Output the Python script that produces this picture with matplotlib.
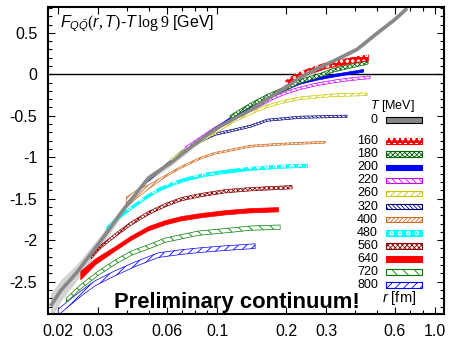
import matplotlib
matplotlib.use("Agg")
import matplotlib.pyplot as plt
from matplotlib.patches import Rectangle
from matplotlib.ticker import FixedLocator, NullFormatter, MultipleLocator

plt.rcParams['font.family'] = ['Liberation Sans', 'DejaVu Sans']
plt.rcParams['mathtext.fontset'] = 'custom'
plt.rcParams['mathtext.it'] = 'Liberation Sans:italic'
plt.rcParams['mathtext.rm'] = 'Liberation Serif'
plt.rcParams['hatch.linewidth'] = 0.6

# temperatures in MeV (0 = vacuum potential)
temps = [0, 160, 180, 200, 220, 260, 320, 400, 480, 560, 640, 720, 800]

# r in fm, F - T log 9 in GeV, band half width in GeV
r_fm = {
    0: [0.0185, 0.0206, 0.0240, 0.0309, 0.0394, 0.0497, 0.0620, 0.0823, 0.1027, 0.1364,
        0.1702, 0.2001, 0.2305, 0.2821, 0.3218, 0.4099, 0.5014, 0.6017, 0.6792],
    160: [0.198, 0.219, 0.255, 0.297, 0.345, 0.402, 0.458],
    180: [0.1137, 0.1391, 0.1652, 0.2001, 0.2305, 0.2737, 0.3218, 0.3819, 0.4581],
    200: [0.0759, 0.0840, 0.0977, 0.1172, 0.1391, 0.1652, 0.1982, 0.2305, 0.2737, 0.3218, 0.4355],
    220: [0.0722, 0.0840, 0.0977, 0.1172, 0.1391, 0.1702, 0.2021, 0.2305, 0.2737, 0.3283, 0.3819, 0.4674],
    260: [0.0620, 0.0722, 0.0840, 0.0977, 0.1172, 0.1391, 0.1652, 0.1982, 0.2305, 0.3218, 0.4535],
    320: [0.0497, 0.0561, 0.0693, 0.0840, 0.0977, 0.1172, 0.1391, 0.1652, 0.2305, 0.3706],
    400: [0.0398, 0.0436, 0.0497, 0.0590, 0.0693, 0.0840, 0.0977, 0.1196, 0.1391, 0.1884, 0.2967],
    480: [0.0325, 0.0356, 0.0418, 0.0482, 0.0549, 0.0652, 0.0744, 0.0883, 0.1081, 0.1391, 0.1884, 0.2474],
    560: [0.0279, 0.0306, 0.0356, 0.0414, 0.0497, 0.0590, 0.0693, 0.0840, 0.1081, 0.1391, 0.2126],
    640: [0.0250, 0.0291, 0.0356, 0.0414, 0.0497, 0.0590, 0.0693, 0.0840, 0.1081, 0.1391, 0.1846],
    720: [0.0217, 0.0250, 0.0300, 0.0356, 0.0418, 0.0507, 0.0590, 0.0823, 0.1137, 0.1391, 0.1884],
    800: [0.0200, 0.0226, 0.0253, 0.0291, 0.0356, 0.0436, 0.0549, 0.0686, 0.0840, 0.1081, 0.1463],
}
F_gev = {
    0: [-2.795, -2.602, -2.398, -2.000, -1.602, -1.253, -1.072, -0.807, -0.627, -0.446,
        -0.277, -0.157, -0.036, 0.084, 0.157, 0.301, 0.494, 0.663, 0.795],
    160: [-0.108, -0.024, 0.048, 0.108, 0.145, 0.181, 0.205],
    180: [-0.518, -0.373, -0.265, -0.169, -0.084, -0.024, 0.048, 0.096, 0.145],
    200: [-0.867, -0.783, -0.651, -0.506, -0.386, -0.277, -0.169, -0.096, -0.048, -0.012, 0.048],
    220: [-0.892, -0.771, -0.651, -0.530, -0.434, -0.301, -0.217, -0.169, -0.120, -0.084, -0.060, -0.036],
    260: [-1.036, -0.916, -0.807, -0.699, -0.566, -0.470, -0.386, -0.325, -0.289, -0.253, -0.241],
    320: [-1.277, -1.157, -0.940, -0.807, -0.723, -0.675, -0.627, -0.554, -0.518, -0.506],
    400: [-1.542, -1.458, -1.361, -1.229, -1.120, -1.012, -0.952, -0.904, -0.867, -0.843, -0.819],
    480: [-1.855, -1.747, -1.602, -1.482, -1.386, -1.301, -1.253, -1.205, -1.169, -1.133, -1.108, -1.096],
    560: [-2.205, -2.084, -1.940, -1.807, -1.675, -1.578, -1.506, -1.458, -1.410, -1.386, -1.361],
    640: [-2.422, -2.253, -2.096, -1.976, -1.855, -1.783, -1.735, -1.699, -1.663, -1.639, -1.627],
    720: [-2.723, -2.566, -2.398, -2.265, -2.157, -2.072, -2.000, -1.916, -1.880, -1.855, -1.843],
    800: [-2.867, -2.747, -2.639, -2.518, -2.398, -2.289, -2.181, -2.145, -2.120, -2.096, -2.072],
}
F_err = {
    0: [0.15, 0.13, 0.10, 0.07, 0.05, 0.04, 0.04, 0.035, 0.035, 0.04,
        0.05, 0.05, 0.05, 0.04, 0.03, 0.02, 0.02, 0.02, 0.02],
    160: [0.035] * 7,
    180: [0.022] * 9,
    200: [0.016] * 11,
    220: [0.016] * 12,
    260: [0.016] * 11,
    320: [0.013] * 10,
    400: [0.06, 0.05, 0.025, 0.011, 0.011, 0.011, 0.011, 0.011, 0.011, 0.011, 0.011],
    480: [0.02] * 12,
    560: [0.02] * 11,
    640: [0.05, 0.035, 0.026, 0.026, 0.026, 0.026, 0.026, 0.026, 0.026, 0.026, 0.026],
    720: [0.026] * 11,
    800: [0.035, 0.035, 0.032, 0.03, 0.03, 0.028, 0.028, 0.028, 0.028, 0.028, 0.028],
}

# colour, face, hatch, hatch over a filled face (white)
style = {
    0: ('#888888', '#888888', None, None),
    160: ('#ff0000', '#ff0000', None, 'ooo'),
    180: ('#006400', 'white', 'xxxxxxx', None),
    200: ('#0000ff', '#0000ff', None, None),
    220: ('#cc00ff', 'white', '\\\\\\\\\\', None),
    260: ('#c8c800', 'white', '/////', None),
    320: ('#00007f', 'white', '\\\\\\\\\\\\\\\\', None),
    400: ('#d2691e', 'white', '////////', None),
    480: ('#00ffff', '#00ffff', None, 'oo'),
    560: ('#8b0000', 'white', 'xxxxxxx', None),
    640: ('#ff0000', '#ff0000', None, None),
    720: ('#007f00', 'white', '\\\\\\', None),
    800: ('#0000ff', 'white', '////', None),
}

fig = plt.figure(figsize=(4.58, 3.38), dpi=100)
ax = fig.add_axes([0.1055, 0.071, 0.864, 0.908])
ax.set_xscale('log')


def band(T, r, lo, hi, zorder):
    col, face, hatch, over = style[T]
    ax.fill_between(r, lo, hi, facecolor=face, edgecolor=col, hatch=hatch,
                    linewidth=0.5, zorder=zorder)
    if over:
        ax.fill_between(r, lo, hi, facecolor='none', edgecolor='white', hatch=over,
                        linewidth=0, zorder=zorder + 0.1)


for k, T in enumerate(temps[:0:-1]):
    r = r_fm[T]
    lo = [f - e for f, e in zip(F_gev[T], F_err[T])]
    hi = [f + e for f, e in zip(F_gev[T], F_err[T])]
    band(T, r, lo, hi, 2 + k * 0.2)

# vacuum potential: light error band plus grey central line
lo0 = [f - e for f, e in zip(F_gev[0], F_err[0])]
hi0 = [f + e for f, e in zip(F_gev[0], F_err[0])]
ax.fill_between(r_fm[0], lo0, hi0, color='#d3d3d3', linewidth=0, zorder=1)
ax.plot(r_fm[0], F_gev[0], color='#888888', lw=2.6, zorder=6, solid_capstyle='butt')

ax.axhline(0, color='black', lw=1.0, zorder=0.5)

ax.set_xlim(0.0181, 0.987)
ax.set_ylim(-2.89, 0.81)

xminor = [0.02, 0.03, 0.04, 0.05, 0.06, 0.07, 0.08, 0.09,
          0.2, 0.3, 0.4, 0.5, 0.6, 0.7, 0.8, 0.9]
xlab_pos = [0.02, 0.03, 0.06, 0.1, 0.2, 0.3, 0.6, 0.9]
xlab_txt = ['0.02', '0.03', '0.06', '0.1', '0.2', '0.3', '0.6', '1.0']
ax.xaxis.set_major_locator(FixedLocator(xlab_pos))
ax.set_xticklabels(xlab_txt)
ax.xaxis.set_minor_locator(FixedLocator(xminor))
ax.xaxis.set_minor_formatter(NullFormatter())
ax.yaxis.set_minor_locator(MultipleLocator(0.1))
ax.set_yticks([0.5, 0, -0.5, -1, -1.5, -2, -2.5])
ax.set_yticklabels(['0.5', '0', '-0.5', '-1', '-1.5', '-2', '-2.5'])
ax.tick_params(which='both', direction='in', top=True, right=True, labelsize=11.5)
ax.tick_params(which='major', length=5, width=0.8)
ax.tick_params(which='minor', length=3, width=0.8)
ax.tick_params(axis='x', pad=7)
ax.tick_params(axis='y', pad=8)
for s in ax.spines.values():
    s.set_linewidth(1.5)
    s.set_zorder(10)

ax.text(0.03, 0.945, r'$F_{Q\bar{Q}}(r,T)$-$T\,\mathrm{log}\,$' + r'$9$ [GeV]',
        transform=ax.transAxes, fontsize=11.5, va='center', ha='left')
ax.text(0.476, 0.038, 'Preliminary continuum!', transform=ax.transAxes,
        fontsize=15.8, fontweight='bold', ha='center', va='center', zorder=12)
ax.text(0.843, 0.052, r'$r$ [fm]', transform=ax.transAxes, fontsize=10.5,
        ha='left', va='center', zorder=12)
ax.text(0.813, 0.678, r'$T$ [MeV]', transform=ax.transAxes, fontsize=9,
        ha='left', va='center', zorder=12)

# legend key
for i, T in enumerate(temps):
    y = 0.632 if i == 0 else 0.5635 - 0.0427 * (i - 1)
    col, face, hatch, over = style[T]
    ax.text(0.833, y, str(T), transform=ax.transAxes, fontsize=9,
            ha='right', va='center', zorder=12)
    edge = 'black' if T == 0 else col
    rect = Rectangle((0.854, y - 0.009), 0.091, 0.018, transform=ax.transAxes,
                     facecolor=face, edgecolor=edge, hatch=hatch, lw=0.8, zorder=12)
    ax.add_patch(rect)
    if over:
        ax.add_patch(Rectangle((0.854, y - 0.009), 0.091, 0.018, transform=ax.transAxes,
                               facecolor='none', edgecolor='white', hatch=over,
                               lw=0, zorder=12.1))

fig.savefig('out.png', dpi=100)
